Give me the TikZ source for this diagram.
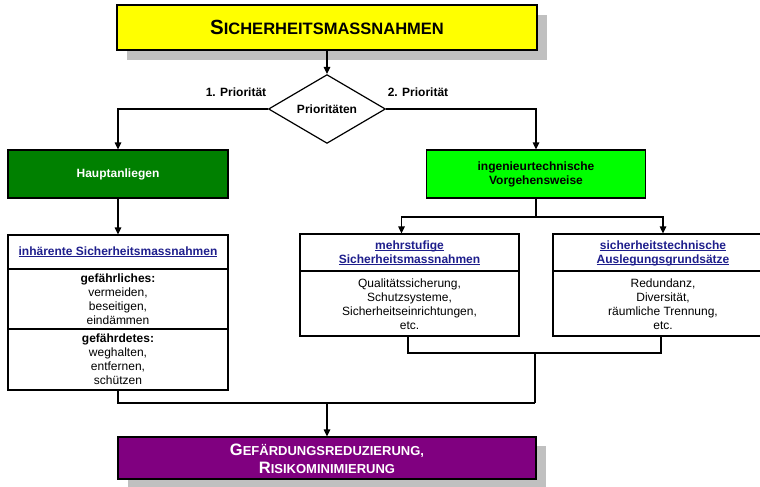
\documentclass[tikz,border=0pt]{standalone}
\usepackage{fontspec}
\setmainfont{Liberation Sans}
\usetikzlibrary{arrows.meta,shapes.geometric,calc,shadows}
\definecolor{linkblue}{RGB}{30,30,140}
\definecolor{shadowgray}{RGB}{192,192,192}
\definecolor{darkgreen}{RGB}{0,128,0}
\definecolor{brightgreen}{RGB}{0,255,0}
\definecolor{titleyellow}{RGB}{255,255,0}
\definecolor{deeppurple}{RGB}{128,0,128}
\newsavebox{\lnkbox}
\newcommand\lnk[1]{\textcolor{linkblue}{\sbox{\lnkbox}{#1}\rlap{\rule[-1.7pt]{\wd\lnkbox}{1pt}}\usebox{\lnkbox}}}
\begin{document}
\begin{tikzpicture}[x=1pt,y=-1pt,
  every node/.style={font=\fontsize{12}{14}\selectfont, inner sep=0pt},
  boldfont/.style={font=\fontsize{12}{14}\selectfont\bfseries},
  frame/.style={draw, line width=1.2pt, rectangle},
  sh/.style={general shadow={fill=shadowgray, draw=none, shadow xshift=10pt, shadow yshift=-#1pt}},
  arr/.style={line width=1.2pt, -{Triangle[length=7pt,width=6.5pt]}},
  ln/.style={line width=1.2pt}]
\clip (0,0) rectangle (760,487);
\fill[white] (0,0) rectangle (760,487);

% title
\node[frame, fill=titleyellow, sh=10, minimum width=420, minimum height=45] (title) at (327,27.5)
  {\bfseries{\fontsize{20.5}{24}\selectfont S}{\fontsize{16.5}{24}\selectfont ICHERHEITSMASSNAHMEN}};

% decision
\node[draw, line width=1.2pt, shape=diamond, minimum width=117, minimum height=50, boldfont] (prio) at (327,109) {Prioritäten};
\node[boldfont] (l1) at (236,92) {1. Priorität};
\node[boldfont] (l2) at (418,92) {2. Priorität};

% second row
\node[frame, fill=darkgreen, minimum width=220, minimum height=48, boldfont, text=white] (haupt) at (118,174) {Hauptanliegen};
\node[frame, fill=brightgreen, minimum width=219, minimum height=48, boldfont, align=center] (ing) at (536,174) {ingenieurtechnische\\Vorgehensweise};

% inherent box
\node[frame, fill=white, minimum width=220, minimum height=155] (inh) at (118,312.5) {};
\draw[ln] (inh.west |- 0,269) -- (inh.east |- 0,269);
\draw[ln] (inh.west |- 0,329) -- (inh.east |- 0,329);
\node[boldfont] (inhh) at (118,252) {\lnk{inhärente Sicherheitsmassnahmen}};
\node[align=center] (inh1) at (118,299.5) {\textbf{gefährliches:}\\vermeiden,\\beseitigen,\\eindämmen};
\node[align=center] (inh2) at (118,359.5) {\textbf{gefährdetes:}\\weghalten,\\entfernen,\\schützen};

% mehrstufige box
\node[frame, fill=white, minimum width=219, minimum height=102] (mehr) at (409.5,285) {};
\draw[ln] (mehr.west |- 0,271) -- (mehr.east |- 0,271);
\node[boldfont, align=center] (mehrh) at (409.5,253) {\lnk{mehrstufige}\\\lnk{Sicherheitsmassnahmen}};
\node[align=center] (mehrb) at (409.5,304) {Qualitätssicherung,\\Schutzsysteme,\\Sicherheitseinrichtungen,\\etc.};

% sicherheitstechnische box
\node[frame, fill=white, minimum width=220, minimum height=102] (sich) at (663,285) {};
\draw[ln] (sich.west |- 0,271) -- (sich.east |- 0,271);
\node[boldfont, align=center] (sichh) at (663,253) {\lnk{sicherheitstechnische}\\\lnk{Auslegungsgrundsätze}};
\node[align=center] (sichb) at (663,304) {Redundanz,\\Diversität,\\räumliche Trennung,\\etc.};

% result
\node[frame, fill=deeppurple, sh=9, minimum width=418, minimum height=42] (res) at (327,458) {};
\node[anchor=base, text=white, font=\bfseries] (res1) at (327,455)
  {{\fontsize{16.5}{18}\selectfont G}{\fontsize{13}{18}\selectfont EFÄRDUNGSREDUZIERUNG,}};
\node[anchor=base, text=white, font=\bfseries] (res2) at (327,473)
  {{\fontsize{16.5}{18}\selectfont R}{\fontsize{13}{18}\selectfont ISIKOMINIMIERUNG}};

% connectors
\draw[arr] (title.south) -- (prio.north);
\draw[arr] (prio.west) -| (haupt.north);
\draw[arr] (prio.east) -| (ing.north);
\draw[arr] (haupt.south) -- (inh.north);
\coordinate (split) at (ing.south |- 0,217);
\draw[ln] (ing.south) -- (split);
\draw[arr] (split) -| ($(mehr.north)+(-8,0)$);
\draw[arr] (split) -| (sich.north);
\coordinate (merge) at (535,353);
\draw[ln] ($(mehr.south)+(-1.5,0)$) |- (merge) -| ($(sich.south)+(-2,0)$);
\coordinate (col) at (535,403);
\draw[ln] (merge) -- (col);
\draw[ln] (inh.south) |- (col);
\draw[arr] (res.north |- col) -- (res.north);
\end{tikzpicture}
\end{document}
